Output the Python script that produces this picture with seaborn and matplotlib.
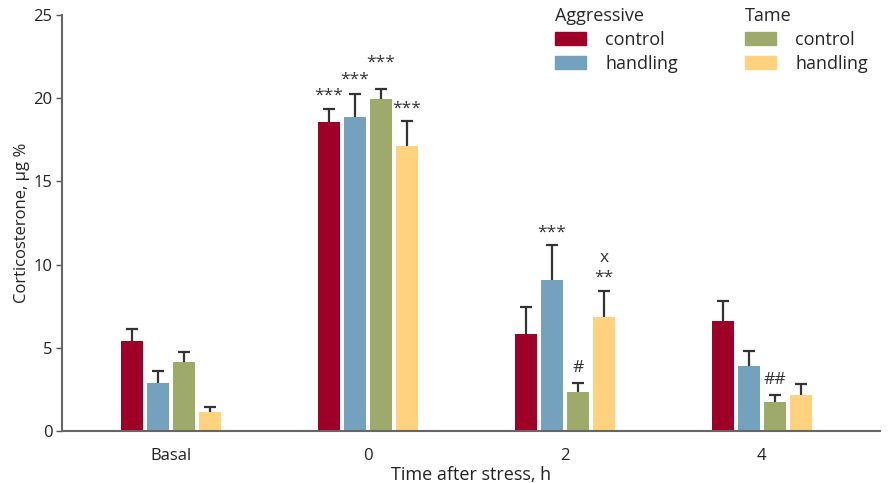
import matplotlib
matplotlib.use("Agg")
import matplotlib.pyplot as plt
import seaborn as sns
import pandas as pd
import numpy as np
from matplotlib.patches import Patch

# Corticosterone levels (µg%) by time after stress
times = ["Basal", "0", "2", "4"]
series = ["Aggressive control", "Aggressive handling", "Tame control", "Tame handling"]
aggr_control = [5.41, 18.57, 5.83, 6.61]
aggr_handling = [2.88, 18.87, 9.07, 3.90]
tame_control = [4.15, 19.95, 2.34, 1.74]
tame_handling = [1.14, 17.13, 6.85, 2.16]
# standard errors (upper whiskers)
aggr_control_se = [0.72, 0.78, 1.62, 1.20]
aggr_handling_se = [0.72, 1.38, 2.11, 0.90]
tame_control_se = [0.60, 0.60, 0.54, 0.42]
tame_handling_se = [0.30, 1.50, 1.56, 0.66]

# significance marks: (series index, time index, text, offset in px above whisker)
marks = [
    (0, 1, "***", 13), (1, 1, "***", 14), (2, 1, "***", 26), (3, 1, "***", 12),
    (1, 2, "***", 12), (3, 2, "**", 13), (3, 2, "x", 33), (2, 2, "#", 15),
    (2, 3, "##", 15),
]

colors = ["#9E0028", "#74A1BD", "#9EAA6B", "#FED27F"]

means = [aggr_control, aggr_handling, tame_control, tame_handling]
errs = [aggr_control_se, aggr_handling_se, tame_control_se, tame_handling_se]
df = pd.DataFrame({
    "time": [t for _ in series for t in times],
    "group": [s for s in series for _ in times],
    "value": [v for m in means for v in m],
})

sns.set_theme(style="white")
plt.rcParams["font.family"] = ["Open Sans", "DejaVu Sans"]

fig = plt.figure(figsize=(8.9, 4.83), dpi=100)
ax = fig.add_axes([62 / 890, 52 / 483, 818 / 890, 416 / 483])

sns.barplot(data=df, x="time", y="value", hue="group", order=times,
            hue_order=series, palette=colors, width=0.528, gap=0.15,
            linewidth=0, saturation=1, errorbar=None, legend=False, ax=ax)

# bar centres per (series, time)
bars = sorted(ax.patches, key=lambda p: p.get_x())
centers = {}
n_t, n_s = len(times), len(series)
for ti in range(n_t):
    grp = bars[ti * n_s:(ti + 1) * n_s]
    for si, p in enumerate(grp):
        centers[(si, ti)] = p.get_x() + p.get_width() / 2

# upper-only whiskers with a cap at the top
cap = 0.03
for si in range(n_s):
    for ti in range(n_t):
        x = centers[(si, ti)]
        y0 = means[si][ti]
        y1 = y0 + errs[si][ti]
        ax.vlines(x, y0, y1, color="#333333", linewidth=1.6, zorder=3)
        ax.hlines(y1, x - cap, x + cap, color="#333333", linewidth=1.6, zorder=3)

for si, ti, txt, off in marks:
    ax.annotate(txt, (centers[(si, ti)], means[si][ti] + errs[si][ti]),
                xytext=(0, off), textcoords="offset pixels",
                ha="center", va="center", fontsize=12.5, color="#333333")

ax.set_xlim(-0.553, 3.6)
ax.set_ylim(0, 25)
ax.set_yticks([0, 5, 10, 15, 20, 25])
ax.set_xlabel("Time after stress, h", fontsize=13, color="#222222", labelpad=2)
ax.set_ylabel("Corticosterone, µg %", fontsize=12, color="#222222", labelpad=2)
ax.tick_params(axis="y", left=True, length=4, width=1, color="#555555",
               labelsize=12, labelcolor="#222222", pad=3)
ax.tick_params(axis="x", bottom=False, labelsize=12, labelcolor="#222222", pad=6)
sns.despine(ax=ax)
for s in ("left", "bottom"):
    ax.spines[s].set_color("#666666")
    ax.spines[s].set_linewidth(1.5)

# two-column legend: one block per line
leg_kw = dict(frameon=False, fontsize=13, title_fontsize=13, alignment="left",
              handlelength=1.72, handleheight=0.72, handletextpad=1.05,
              labelspacing=0.33, borderaxespad=0, borderpad=0)
leg1 = ax.legend(handles=[Patch(color=colors[0], label="control"),
                          Patch(color=colors[1], label="handling")],
                 title="Aggressive", loc="upper left",
                 bbox_to_anchor=(0.603, 1.02), **leg_kw)
ax.add_artist(leg1)
ax.legend(handles=[Patch(color=colors[2], label="control"),
                   Patch(color=colors[3], label="handling")],
          title="Tame", loc="upper left",
          bbox_to_anchor=(0.835, 1.02), **leg_kw)

fig.savefig("out.png", dpi=100)
